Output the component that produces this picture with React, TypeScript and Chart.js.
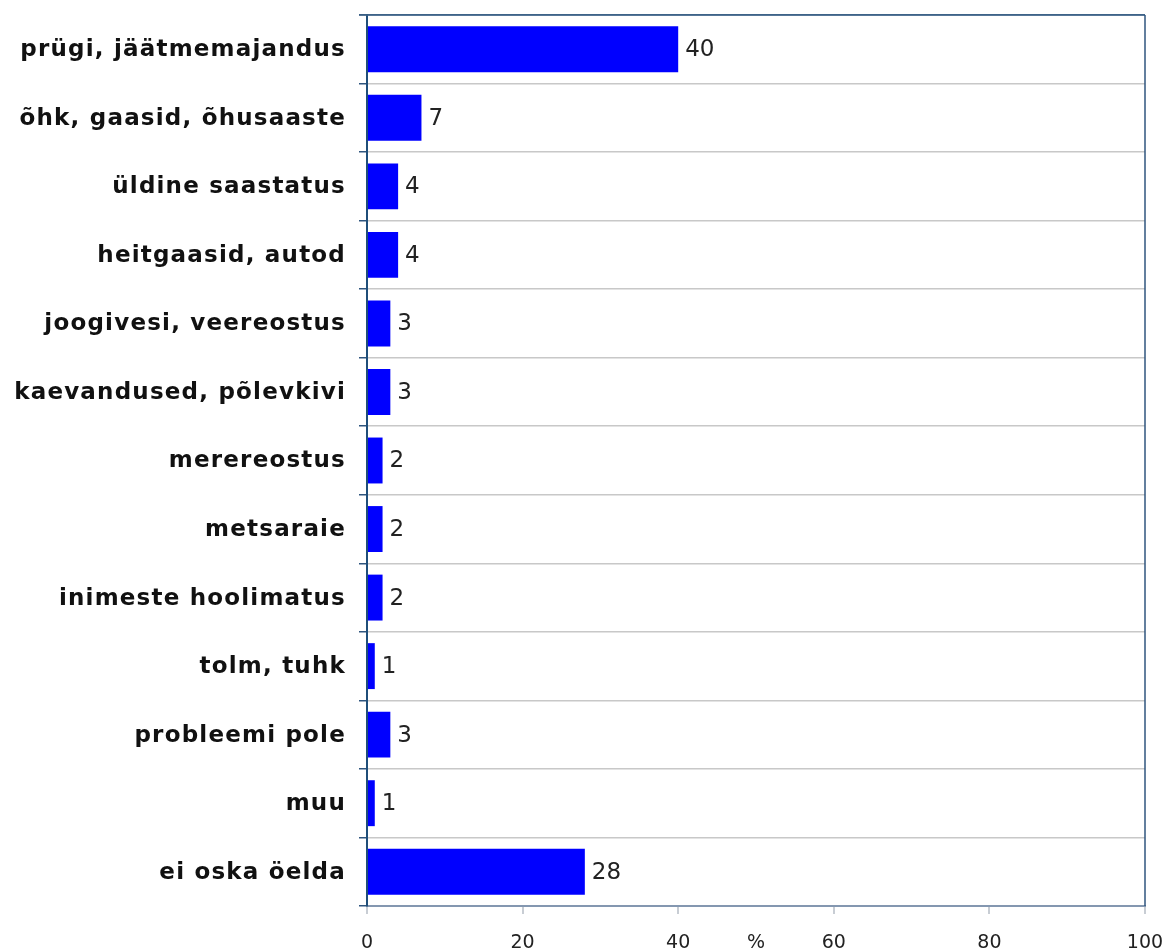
import React, { useEffect, useRef } from "react";
import { Chart, registerables } from "chart.js";

Chart.register(...registerables);

const categories: string[] = [
  "prügi, jäätmemajandus",
  "õhk, gaasid, õhusaaste",
  "üldine saastatus",
  "heitgaasid, autod",
  "joogivesi, veereostus",
  "kaevandused, põlevkivi",
  "merereostus",
  "metsaraie",
  "inimeste hoolimatus",
  "tolm, tuhk",
  "probleemi pole",
  "muu",
  "ei oska öelda",
];

const values: number[] = [40, 7, 4, 4, 3, 3, 2, 2, 2, 1, 3, 1, 28];

const xTicks: number[] = [0, 20, 40, 60, 80, 100];
const axisUnit = "%";

const FONT = "'DejaVu Sans', Verdana, sans-serif";

const valueLabelPlugin = {
  id: "valueLabels",
  afterDatasetsDraw(chart: any) {
    const ctx = chart.ctx;
    const meta = chart.getDatasetMeta(0);
    ctx.save();
    ctx.font = `23px ${FONT}`;
    ctx.fillStyle = "#222222";
    ctx.textAlign = "left";
    ctx.textBaseline = "middle";
    meta.data.forEach((bar: any, i: number) => {
      ctx.fillText(String(values[i]), bar.x + 7, bar.y + 1);
    });
    ctx.restore();
  },
};

const categoryLabelPlugin = {
  id: "categoryLabels",
  afterDraw(chart: any) {
    const ctx = chart.ctx;
    const y = chart.scales.y;
    const a = chart.chartArea;
    ctx.save();
    ctx.font = `bold 23px ${FONT}`;
    (ctx as any).letterSpacing = "1.2px";
    ctx.fillStyle = "#111111";
    ctx.textAlign = "right";
    ctx.textBaseline = "middle";
    categories.forEach((c, i) => {
      ctx.fillText(c, a.left - 21, y.getPixelForTick(i) + 1);
    });
    ctx.restore();
  },
};

const frameAndUnitPlugin = {
  id: "frameAndUnit",
  afterDraw(chart: any) {
    const ctx = chart.ctx;
    const a = chart.chartArea;
    ctx.save();
    ctx.strokeStyle = "#3F6389";
    ctx.lineWidth = 1.5;
    ctx.beginPath();
    ctx.moveTo(a.left - 8, a.top);
    ctx.lineTo(a.right, a.top);
    ctx.stroke();
    ctx.strokeStyle = "#2F557E";
    ctx.beginPath();
    ctx.moveTo(a.right, a.top);
    ctx.lineTo(a.right, a.bottom);
    ctx.stroke();
    ctx.font = `19px ${FONT}`;
    ctx.fillStyle = "#222222";
    ctx.textAlign = "center";
    ctx.textBaseline = "middle";
    ctx.fillText(axisUnit, (a.left + a.right) / 2, a.bottom + 37);
    ctx.restore();
  },
};

export default function App() {
  const canvasRef = useRef<HTMLCanvasElement | null>(null);

  useEffect(() => {
    if (!canvasRef.current) return;
    const zeroPad = (scale: any) => {
      scale.paddingTop = 0;
      scale.paddingBottom = 0;
      scale.paddingLeft = 0;
      scale.paddingRight = 0;
    };
    const chart = new Chart(canvasRef.current, {
      type: "bar",
      data: {
        labels: categories,
        datasets: [
          {
            data: values,
            backgroundColor: "#0000FF",
            borderWidth: 0,
            categoryPercentage: 1,
            barPercentage: 0.67,
          },
        ],
      },
      plugins: [valueLabelPlugin, categoryLabelPlugin, frameAndUnitPlugin],
      options: {
        indexAxis: "y",
        animation: false,
        responsive: false,
        maintainAspectRatio: false,
        layout: { padding: { top: 15, right: 22, left: 0, bottom: 0 } },
        plugins: {
          legend: { display: false },
          tooltip: { enabled: false },
        },
        scales: {
          x: {
            type: "linear",
            min: 0,
            max: 100,
            afterBuildTicks: (scale: any) => {
              scale.ticks = xTicks.map((v) => ({ value: v }));
            },
            afterFit: (scale: any) => {
              scale.height = 43;
              zeroPad(scale);
            },
            grid: {
              drawOnChartArea: false,
              drawTicks: true,
              tickLength: 8,
              tickColor: "#C8CDD4",
              lineWidth: 2,
            },
            border: { display: true, color: "#8497B0", width: 2 },
            ticks: {
              padding: 18,
              color: "#222222",
              font: { family: FONT, size: 19 },
              maxRotation: 0,
            },
          },
          y: {
            type: "category",
            offset: true,
            afterFit: (scale: any) => {
              scale.width = 367;
              zeroPad(scale);
            },
            grid: {
              offset: true,
              drawOnChartArea: true,
              drawTicks: true,
              tickLength: 8,
              color: (c: any) => (c.index === 0 ? "#3F6389" : "#C8C8C8"),
              tickColor: "#2F557E",
              lineWidth: 1.5,
            },
            border: { display: true, color: "#1F4E79", width: 2 },
            ticks: { display: false },
          },
        },
      },
    } as any);
    return () => chart.destroy();
  }, []);

  return (
    <div style={{ position: "fixed", left: 0, top: 0, width: 1167, height: 949, background: "#fff" }}>
      <canvas ref={canvasRef} width={1167} height={949} style={{ width: 1167, height: 949, display: "block" }} />
    </div>
  );
}
